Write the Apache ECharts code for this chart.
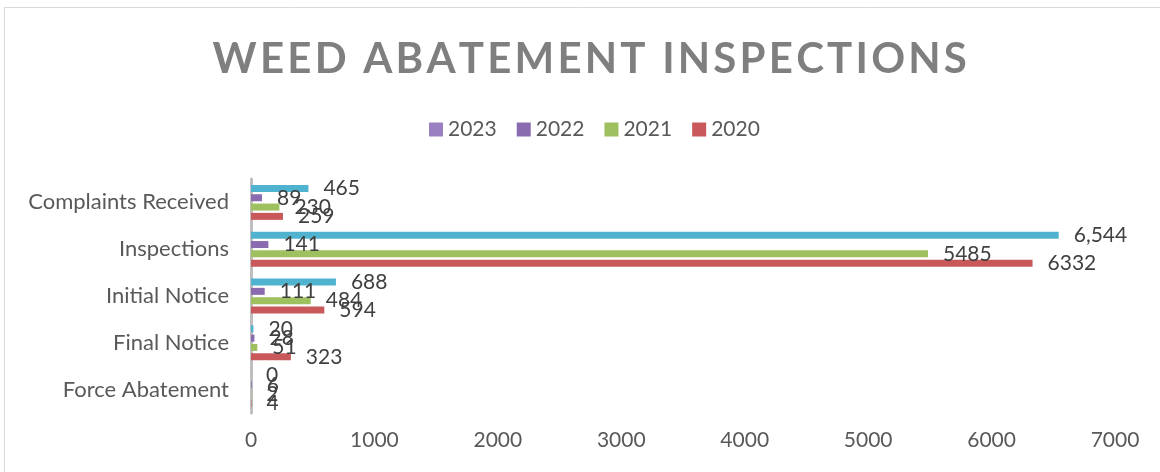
<!DOCTYPE html>
<html>
<head>
<meta charset="utf-8">
<script src="https://cdn.jsdelivr.net/npm/echarts@6/dist/echarts.min.js"></script>
<style>html,body{margin:0;padding:0;background:#fff;}#c{width:1160px;height:472px;}</style>
</head>
<body>
<div id="c"></div>
<script>
const titleText = 'WEED ABATEMENT INSPECTIONS';
const categories = ['Complaints Received', 'Inspections', 'Initial Notice', 'Final Notice', 'Force Abatement'];
const seriesNames = ['2023', '2022', '2021', '2020'];
const values2023 = [465, 6544, 688, 20, 0];
const values2022 = [89, 141, 111, 28, 6];
const values2021 = [230, 5485, 484, 51, 2];
const values2020 = [259, 6332, 594, 323, 4];
const xTicks = [0, 1000, 2000, 3000, 4000, 5000, 6000, 7000];

const chart = echarts.init(document.getElementById('c'));
const font = 'Lato';
const colors = ['#4fb3cf', '#8a6bb0', '#9fc05f', '#c9585a'];
const allValues = [values2023, values2022, values2021, values2020];

function mkSeries(i) {
  return {
    name: seriesNames[i],
    type: 'bar',
    data: allValues[i],
    barWidth: 7,
    barGap: '33%',
    itemStyle: { color: colors[i] },
    label: {
      show: true,
      position: 'right',
      distance: 15,
      fontFamily: font,
      fontSize: 21,
      color: '#404040',
      formatter: i === 0 ? (p => p.value.toLocaleString('en-US')) : (p => String(p.value))
    }
  };
}

// letter-spaced title: each character is its own rich token with padding
const spacedTitle = titleText.split('').map(ch => '{l|' + ch + '}').join('');

chart.setOption({
  animation: false,
  graphic: [{
    type: 'rect',
    shape: { x: 4.5, y: 7.5, width: 1160, height: 480 },
    style: { fill: 'none', stroke: '#d9d9d9', lineWidth: 1 },
    silent: true
  }],
  title: {
    text: spacedTitle,
    left: 206,
    top: 33,
    textStyle: {
      fontFamily: font, fontWeight: 'bold', fontSize: 42, color: '#7f7f7f',
      rich: { l: { fontFamily: font, fontWeight: 'bold', fontSize: 42, color: '#7f7f7f', padding: [0, 1.6, 0, 1.6] } }
    }
  },
  legend: {
    top: 114,
    left: 424,
    itemWidth: 14,
    itemHeight: 14,
    itemGap: 20,
    icon: 'rect',
    textStyle: { fontFamily: font, fontSize: 21, color: '#595959' },
    data: [
      { name: '2023', itemStyle: { color: '#9a80c0' } },
      { name: '2022' },
      { name: '2021' },
      { name: '2020' }
    ]
  },
  grid: { left: 251, right: 45, top: 179, bottom: 59, containLabel: false },
  xAxis: {
    type: 'value',
    min: xTicks[0],
    max: xTicks[xTicks.length - 1],
    interval: 1000,
    axisLine: { show: false },
    axisTick: { show: false },
    splitLine: { show: false },
    axisLabel: { fontFamily: font, fontSize: 21, color: '#595959', margin: 17, formatter: v => String(v) }
  },
  yAxis: {
    type: 'category',
    data: categories,
    inverse: true,
    axisLine: { show: true, lineStyle: { color: '#bfbfbf', width: 3 } },
    axisTick: { show: false },
    axisLabel: { fontFamily: font, fontSize: 22, color: '#595959', margin: 22 }
  },
  series: [0, 1, 2, 3].map(mkSeries)
});
</script>
</body>
</html>
